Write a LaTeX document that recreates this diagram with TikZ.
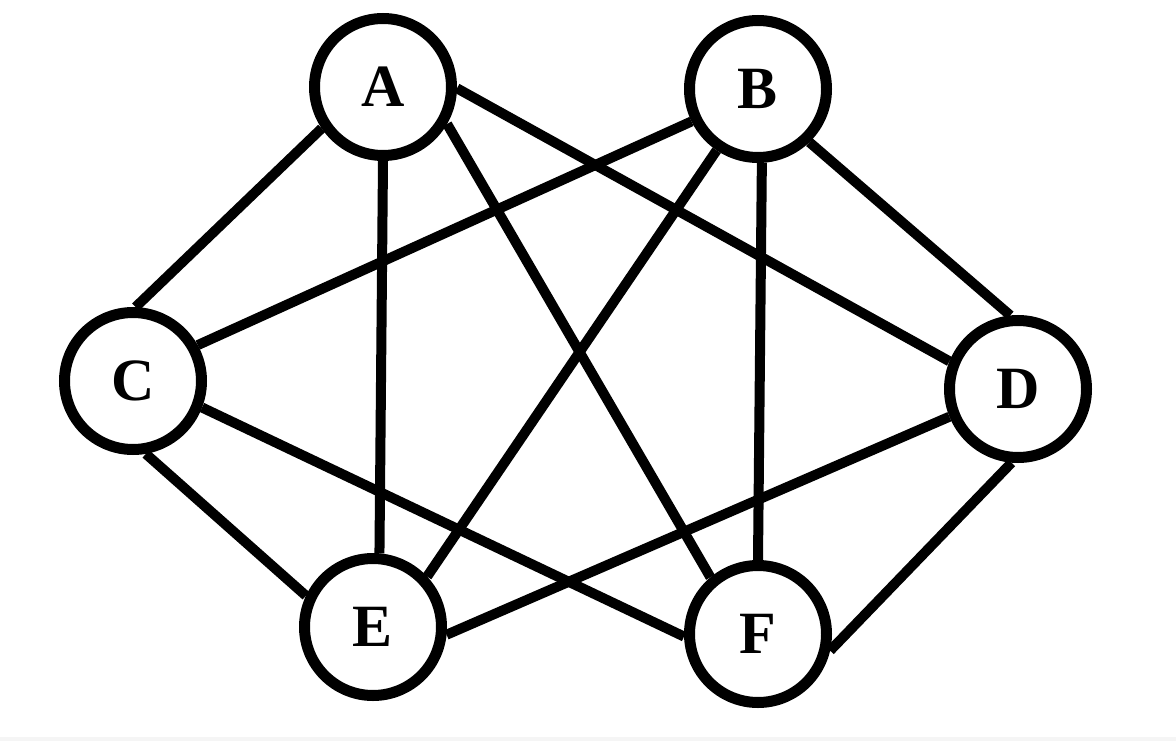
\documentclass[tikz,border=0pt]{standalone}
\usepackage{fontspec}
\setmainfont{Liberation Serif}
\begin{document}
\begin{tikzpicture}[x=1pt,y=-1pt,
  vertex/.style={circle,draw=black,line width=11pt,fill=white,inner sep=0pt,
    minimum size=137pt,font=\fontsize{60}{72}\selectfont\bfseries},
  edge/.style={line width=10pt,black}]
\path[use as bounding box,fill=white] (0,0) rectangle (1176,741);
\fill[gray!8] (0,737) rectangle (1176,741);
\node[vertex] (A) at (383,87) {A};
\node[vertex] (B) at (758,89) {B};
\node[vertex] (C) at (133,381) {C};
\node[vertex] (D) at (1018,389) {D};
\node[vertex] (E) at (373,627) {E};
\node[vertex] (F) at (758,634) {F};
\draw[edge] (A.214) -- (C.88);
\draw[edge] (A.270) -- (E.85);
\draw[edge] (A.330) -- (F.130);
\draw[edge] (A.-1) -- (D.158);
\draw[edge] (B.206) -- (C.29);
\draw[edge] (B.236) -- (E.43);
\draw[edge] (B.273) -- (F.90);
\draw[edge] (B.314) -- (D.96);
\draw[edge] (C.280) -- (E.155);
\draw[edge] (C.339) -- (F.182);
\draw[edge] (D.202) -- (E.354);
\draw[edge] (D.265) -- (F.347);
\end{tikzpicture}
\end{document}
